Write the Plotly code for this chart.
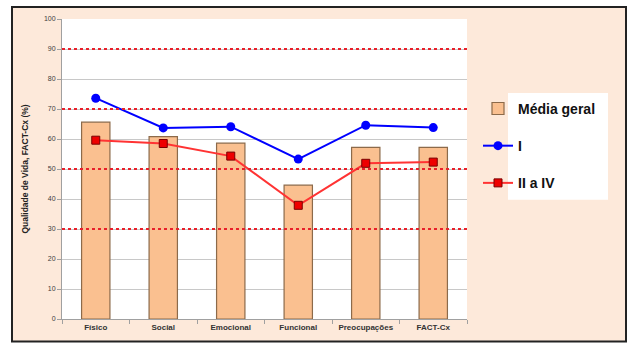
import plotly.graph_objects as go

categories = ["Físico", "Social", "Emocional", "Funcional", "Preocupações", "FACT-Cx"]
media_geral = [65.6, 60.8, 58.6, 44.6, 57.2, 57.2]
grupo_I = [73.6, 63.7, 64.1, 53.3, 64.6, 63.8]
grupo_II_IV = [59.6, 58.5, 54.3, 37.9, 51.9, 52.3]
y_ticks = [0, 10, 20, 30, 40, 50, 60, 70, 80, 90, 100]
red_lines = [30, 50, 70, 90]

W, H = 632, 344
L, R, T, B = 62, 467, 19, 319.5

def px(x):
    return (x - L) / (R - L)

def py(y):
    return (B - y) / (B - T)

fig = go.Figure()
fig.add_trace(go.Bar(
    x=categories, y=media_geral, name="<b>Média geral</b>",
    marker=dict(color="#FAC090", line=dict(color="#8C6A4A", width=1.2)),
    width=0.42, legendgroup="a"))
fig.add_trace(go.Scatter(
    x=categories, y=grupo_I, name="<b>I</b>", mode="lines+markers",
    line=dict(color="#0000FF", width=2),
    marker=dict(symbol="circle", size=9, color="#0000FF"), legendgroup="b"))
fig.add_trace(go.Scatter(
    x=categories, y=grupo_II_IV, name="<b>II a IV</b>", mode="lines+markers",
    line=dict(color="#FF3333", width=2),
    marker=dict(symbol="square", size=8, color="#EE0000", line=dict(color="#7A0000", width=1)),
    legendgroup="c"))

shapes = [
    dict(type="rect", xref="paper", yref="paper", x0=px(12), x1=px(626), y0=py(342), y1=py(7),
         fillcolor="#FDE9DA", line=dict(color="#222222", width=2), layer="below"),
    dict(type="rect", xref="paper", yref="paper", x0=0, x1=1, y0=0, y1=1,
         fillcolor="white", line=dict(width=0), layer="below"),
    dict(type="rect", xref="paper", yref="paper", x0=px(508), x1=px(608), y0=py(200), y1=py(93),
         fillcolor="white", line=dict(width=0), layer="below"),
]
for v in red_lines:
    shapes.append(dict(type="line", xref="paper", yref="y", x0=0, x1=1, y0=v, y1=v,
                       line=dict(color="#E8202A", width=2, dash="dot"), layer="above"))

fig.update_layout(
    width=W, height=H,
    margin=dict(l=L, r=W - R, t=T, b=H - B),
    paper_bgcolor="white", plot_bgcolor="white",
    font=dict(family="Liberation Sans, Arial", color="#404040"),
    showlegend=True,
    legend=dict(x=px(478), y=py(93), xanchor="left", yanchor="top",
                bgcolor="rgba(0,0,0,0)", font=dict(size=14, color="#111111", family="Liberation Sans, Arial"),
                tracegroupgap=16, traceorder="grouped", itemwidth=30),
    shapes=shapes,
    bargap=0.58,
    xaxis=dict(showgrid=False, showline=True, linecolor="#A0A0A0", ticks="outside", tickson="boundaries",
               ticklen=4, tickcolor="#A0A0A0",
               tickfont=dict(size=8, color="#333333"), tickprefix="<b>", ticksuffix="</b>"),
    yaxis=dict(range=[0, 100], tickvals=y_ticks, showgrid=True, gridcolor="#C8C8C8", gridwidth=1,
               showline=True, linecolor="#A0A0A0", ticks="outside", ticklen=4, tickcolor="#A0A0A0",
               tickfont=dict(size=7, color="#404040"), zeroline=False,
               title=dict(text="<b>Qualidade de Vida, FACT-Cx (%)</b>", font=dict(size=8.5, color="#222222"), standoff=13)),
)
fig.write_html("out.html")
